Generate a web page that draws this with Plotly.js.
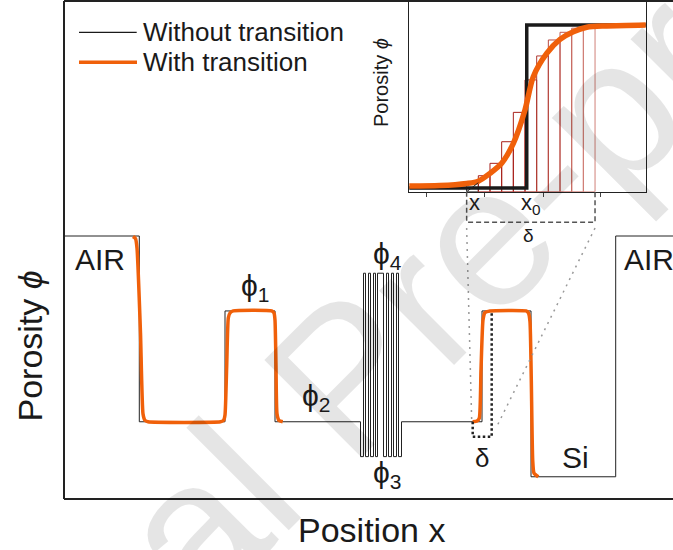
<!DOCTYPE html>
<html><head><meta charset="utf-8">
<script src="https://cdn.plot.ly/plotly-3.0.1.min.js"></script>
<style>html,body{margin:0;padding:0;background:#fff}#chart{width:673px;height:550px}</style>
</head><body><div id="chart"></div>
<script>
// ---------- data: main porosity profile ----------
const PHI_AIR = 1.0, PHI_1 = 0.714, PHI_2 = 0.291, PHI_3 = 0.158, PHI_4 = 0.858, PHI_SI = 0.081;
// start position of every layer (arbitrary position units) and its porosity
const layerStart = [0, 75.3, 161, 211, 296.5, 299.5, 301.5, 304.5, 306.5, 309.5, 311.5, 313.5, 319.5, 322.5, 324.5, 327.5, 329.5, 332.5, 334.5, 337.5, 418, 467, 551.7];
const layerPhi = [PHI_AIR, PHI_2, PHI_1, PHI_2, PHI_3, PHI_4, PHI_3, PHI_4, PHI_3, PHI_4, PHI_3, PHI_4, PHI_3, PHI_4, PHI_3, PHI_4, PHI_3, PHI_4, PHI_3, PHI_2, PHI_1, PHI_SI, PHI_AIR];
const profileEnd = 640;
// profile with smooth transitions
const smoothX = [69,71.5,73,76.5,79,81,84,156.5,159.5,161,162.7,164.3,166,169.3,207.7,210,211,212,213,215,218.7,null,
                 408.7,413,415.3,417,419,421,426,462,464.5,466,467.3,468.7,470,474.3];
const smoothY = [0.998,0.990,0.954,0.630,0.321,0.296,0.291,0.291,0.296,0.317,0.504,0.687,0.706,0.714,0.714,0.706,0.679,0.504,0.321,0.296,0.291,null,
                 0.291,0.294,0.305,0.489,0.679,0.708,0.714,0.714,0.706,0.672,0.450,0.145,0.095,0.081];

// ---------- data: inset (zoom on one interface) ----------
const cellLeft = [-5,-4,-3,-2,-1,0,1,2,3,4,5];
const cellPhi = [0.0325,0.0755,0.1515,0.284,0.464,0.663,0.81,0.908,0.955,0.98,0.994];
const cellColor = ['#222222','#a8201a','#a8201a','#a8201a','#a8201a','#a82a22','#b03a32','#b84a42','#c05a52','#c86a62','#d08078'];
const insetStepX = [-9.95, 0.15, 0.15, 10.4];
const insetStepY = [0, 0, 1, 1];
const insetSmoothX = [-9.95,-7.3,-5,-4,-3,-2,-1,0,0.71,1.86,3,4.14,5.29,7,10.4];
const insetSmoothY = [0.012,0.015,0.028,0.042,0.09,0.152,0.274,0.479,0.683,0.826,0.912,0.959,0.986,0.994,1.0];
const insetTicks = [-8.43,-3.43,1.57,6.43];

// ---------- geometry ----------
const W = 673, H = 550, ML = 64, MR = 0, MT = 1, MB = 51;
const PW = W - ML - MR, PH = H - MT - MB;
const XR = [0, 609], YR = [-0.0038, 1.897];
const X2D = [0.567, 0.9552], Y2D = [0.617, 1];
const X2R = [-9.914, 10.343], Y2R = [-0.0227, 1.147];
const INSET_BASE = Y2R[0];
const FONT = 'Liberation Sans, Arial, Helvetica, DejaVu Sans, sans-serif';
const INK = '#1a1a1a';
const ORANGE = '#f0600a';
const PHI = '\u03D5';

const px2p = px => (px - ML) / PW;          // pixel -> paper x
const py2p = py => (H - MB - py) / PH;      // pixel -> paper y
const x2p = u => X2D[0] + (X2D[1] - X2D[0]) * (u - X2R[0]) / (X2R[1] - X2R[0]);
const xp = x => (x - XR[0]) / (XR[1] - XR[0]);
const yp = y => (y - YR[0]) / (YR[1] - YR[0]);

const traces = [
  {x: layerStart.concat([profileEnd]), y: layerPhi.concat([layerPhi[layerPhi.length-1]]),
   mode: 'lines', line: {shape: 'hv', color: '#222', width: 1}, xaxis: 'x', yaxis: 'y', hoverinfo: 'skip'},
  {x: smoothX, y: smoothY, mode: 'lines', line: {shape: 'spline', smoothing: 0.5, color: ORANGE, width: 3.5},
   xaxis: 'x', yaxis: 'y', hoverinfo: 'skip'},
  {type: 'bar', x: cellLeft.map(v => v + 0.5), y: cellPhi.map(v => v - INSET_BASE), base: INSET_BASE, width: 1,
   marker: {color: 'rgba(0,0,0,0)', line: {color: cellColor, width: 1}}, xaxis: 'x2', yaxis: 'y2', hoverinfo: 'skip'},
  {x: insetStepX, y: insetStepY, mode: 'lines', line: {color: INK, width: 3.5}, xaxis: 'x2', yaxis: 'y2', hoverinfo: 'skip'},
  {x: insetSmoothX, y: insetSmoothY, mode: 'lines', line: {shape: 'spline', smoothing: 0.8, color: ORANGE, width: 5.5},
   xaxis: 'x2', yaxis: 'y2', hoverinfo: 'skip'}
];

const ann = (text, px, py, size, extra) => Object.assign({
  text: text, xref: 'paper', yref: 'paper', x: px2p(px), y: py2p(py), showarrow: false,
  xanchor: 'center', yanchor: 'middle', borderpad: 0, font: {family: FONT, size: size, color: INK}
}, extra || {});

const annotations = [
  ann('Journal Pre-proof', 344, 376, 200, {textangle: -45, font: {family: FONT, size: 200, color: 'rgba(0,0,0,0.10)'}}),
  ann('Without transition', 142, 31.7, 26, {xanchor: 'left'}),
  ann('With transition', 142, 61.7, 26, {xanchor: 'left'}),
  ann('AIR', 99.7, 259.6, 30),
  ann('AIR', 623.3, 259.6, 30, {xanchor: 'left'}),
  ann('Si', 575, 457.1, 30),
  ann(PHI + '<sub>1</sub>', 255, 287.2, 30),
  ann(PHI + '<sub>2</sub>', 316.5, 397, 30),
  ann(PHI + '<sub>4</sub>', 387, 255.5, 30),
  ann(PHI + '<sub>3</sub>', 387, 474.5, 30),
  ann('δ', 482, 457.7, 26),
  ann('x', 474, 202.4, 22),
  ann('x<sub>0</sub>', 531, 204, 22),
  ann('δ', 528, 235.4, 19),
  ann('Position x', 371.7, 529.9, 34),
  ann('Porosity <i>' + PHI + '</i>', 29, 346.5, 34, {textangle: -90}),
  ann('Porosity <i>' + PHI + '</i>', 381, 83, 20, {textangle: -90})
];

const frame = {color: '#222', width: 2};
const shapes = [
  {type: 'line', xref: 'paper', yref: 'paper', x0: 0, x1: 0, y0: 0, y1: 1, line: frame},
  {type: 'line', xref: 'paper', yref: 'paper', x0: 0, x1: 1.05, y0: 1, y1: 1, line: frame},
  {type: 'line', xref: 'paper', yref: 'paper', x0: 0, x1: 1.05, y0: 0, y1: 0, line: frame},
  // legend samples
  {type: 'line', xref: 'paper', yref: 'paper', x0: px2p(79), x1: px2p(136.7), y0: py2p(32.3), y1: py2p(32.3), line: {color: INK, width: 1.3}},
  {type: 'line', xref: 'paper', yref: 'paper', x0: px2p(79), x1: px2p(137), y0: py2p(62.3), y1: py2p(62.3), line: {color: ORANGE, width: 3.5}},
  // hatch in first cell
  {type: 'line', xref: 'x2', yref: 'y2', x0: cellLeft[0], x1: cellLeft[0] + 1, y0: INSET_BASE, y1: cellPhi[0], line: {color: '#222', width: 1}},
  // dashed bracket under inset (delta)
  {type: 'path', xref: 'paper', yref: 'paper',
   path: `M ${x2p(cellLeft[0])} ${Y2D[0]} L ${x2p(cellLeft[0])} ${py2p(222.3)} L ${x2p(cellLeft[cellLeft.length-1]+1)} ${py2p(222.3)} L ${x2p(cellLeft[cellLeft.length-1]+1)} ${Y2D[0]}`,
   line: {color: '#555', width: 1.5, dash: '5px,3px'}},
  // grey dotted zoom lines
  {type: 'line', xref: 'paper', yref: 'paper', x0: x2p(cellLeft[0]), y0: py2p(228), x1: xp(407.7), y1: yp(0.294),
   line: {color: '#999', width: 1.5, dash: '2px,5px'}},
  {type: 'line', xref: 'paper', yref: 'paper', x0: x2p(cellLeft[cellLeft.length-1]+1), y0: py2p(228), x1: xp(432.7), y1: yp(0.272),
   line: {color: '#999', width: 1.5, dash: '2px,5px'}},
  // black dotted delta box in main plot
  {type: 'path', xref: 'x', yref: 'y', path: 'M 408.7 0.291 L 408.7 0.234 L 427.7 0.234 L 427.7 0.711',
   line: {color: '#222', width: 2.5, dash: '2.5px,2.5px'}}
];

const hidden = {showgrid: false, zeroline: false, showticklabels: false, ticks: '', showline: false, fixedrange: true};
const layout = {
  width: W, height: H, margin: {l: ML, r: MR, t: MT, b: MB, pad: 0},
  paper_bgcolor: '#fff', plot_bgcolor: 'rgba(0,0,0,0)', showlegend: false,
  xaxis: Object.assign({range: XR, domain: [0, 1]}, hidden),
  yaxis: Object.assign({range: YR, domain: [0, 1]}, hidden),
  xaxis2: {domain: X2D, anchor: 'y2', range: X2R, showgrid: false, zeroline: false, showticklabels: false,
           showline: true, mirror: true, linecolor: '#222', linewidth: 1.2,
           ticks: 'outside', ticklen: 4, tickwidth: 1, tickcolor: '#444', tickmode: 'array', tickvals: insetTicks, fixedrange: true},
  yaxis2: {domain: Y2D, anchor: 'x2', range: Y2R, showgrid: false, zeroline: false, showticklabels: false,
           showline: true, mirror: true, linecolor: '#222', linewidth: 1.2, ticks: '', fixedrange: true},
  annotations: annotations, shapes: shapes
};
Plotly.newPlot('chart', traces, layout, {staticPlot: true, displayModeBar: false});
</script></body></html>
